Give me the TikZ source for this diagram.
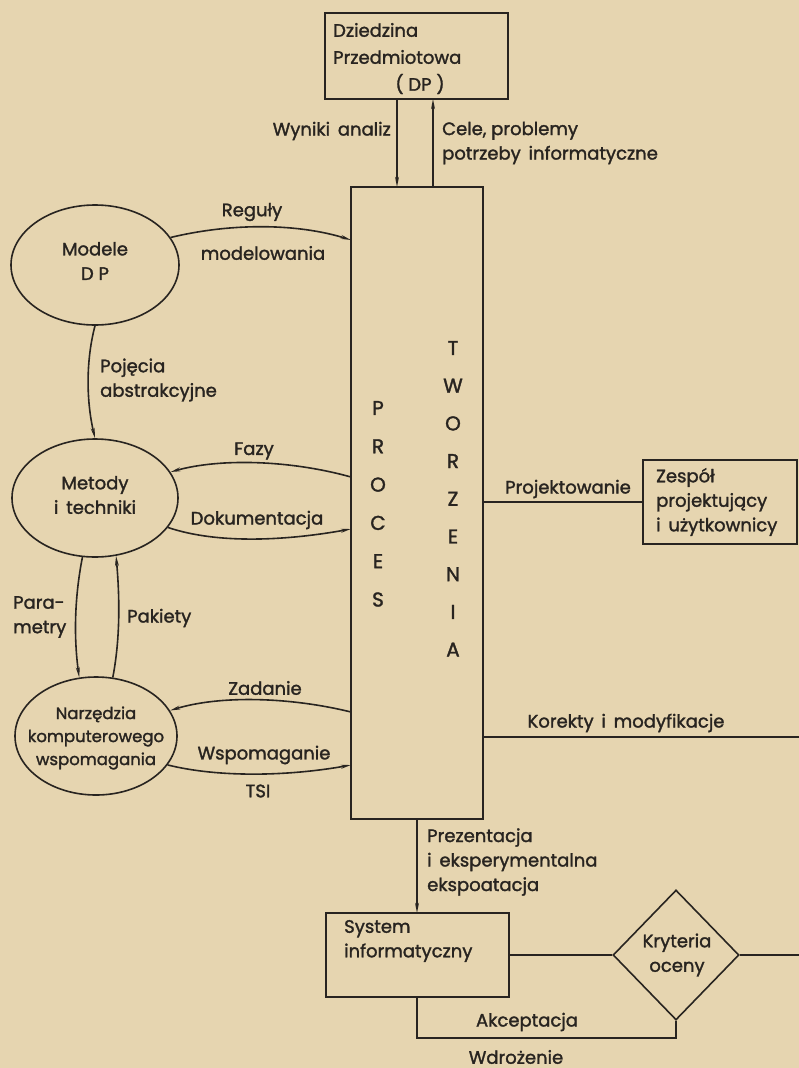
\documentclass[tikz,border=0pt]{standalone}
\usepackage{fontspec}
\setmainfont{Poppins}[UprightFeatures={FakeBold=1.6}]
\usetikzlibrary{shapes.geometric,arrows.meta,calc}
\definecolor{paper}{RGB}{230,213,176}
\definecolor{ink}{RGB}{40,36,32}

\begin{document}
\begin{tikzpicture}[x=1pt,y=-1pt,
  every node/.style={text=ink,font=\fontsize{18}{24.5}\selectfont},
  line/.style={draw=ink,line width=1.6pt},
  arr/.style={line,-{Stealth[length=10pt,width=3.8pt]}},
  box/.style={draw=ink,line width=1.7pt,rectangle,inner sep=0pt},
  oval/.style={draw=ink,line width=1.6pt,ellipse,inner sep=0pt},
  diam/.style={draw=ink,line width=1.6pt,diamond,inner sep=0pt,aspect=0.97},
  lbl/.style={inner sep=0pt,align=left,anchor=west},
  clbl/.style={inner sep=0pt,align=center},
  letter/.style={inner sep=0pt,font=\fontsize{20}{20}\selectfont}]

% paper
\fill[paper] (0,0) rectangle (799,1068);
\useasboundingbox (0,0) rectangle (799,1068);

% ---------- boxes and ellipses ----------
\node[box,minimum width=183,minimum height=86] (dp) at (416.5,56) {};
\node[box,minimum width=132,minimum height=632] (proces) at (417,503) {};
\node[box,minimum width=154,minimum height=84] (zespol) at (720,502) {};
\node[box,minimum width=183,minimum height=84] (system) at (417.5,955) {};
\node[diam,minimum width=126,minimum height=130] (kryt) at (676,955) {};

\node[oval,minimum width=168,minimum height=120] (modele) at (95,265) {};
\node[oval,minimum width=166,minimum height=118] (metody) at (95,498) {};
\node[oval,minimum width=162,minimum height=118] (narz) at (96,736) {};

% ---------- texts inside shapes ----------
\node[lbl] (t-dp1) at (333,30) {Dziedzina};
\node[lbl] (t-dp2) at (333,57) {Przedmiotowa};
\node[clbl] (t-dp3) at (420,84) {( DP )};

\node[clbl] (t-mod) at (95,261) {Modele\\D P};
\node[clbl] (t-met) at (95,495) {Metody\\i\, techniki};
\node[clbl,font=\fontsize{16.5}{23}\selectfont] (t-narz) at (96,738) {Narzędzia\\komputerowego\\wspomagania};

\node[lbl] (t-zes) at (656,502) {Zespół\\projektujący\\i\, użytkownicy};
\node[lbl] (t-sys) at (344,941) {System\\informatyczny};
\node[clbl] (t-kryt) at (677,955) {Kryteria\\oceny};

\foreach \c [count=\i from 0] in {P,R,O,C,E,S}
  \node[letter] (p\i) at (378,{408+38.3*\i}) {\c};
\foreach \c [count=\i from 0] in {T,W,O,R,Z,E,N,I,A}
  \node[letter] (w\i) at (453,{348+37.7*\i}) {\c};

% ---------- border points ----------
\coordinate (dpA) at (397,99);   \coordinate (prA) at (397,187);
\coordinate (dpB) at (433,99);   \coordinate (prB) at (433,187);
\coordinate (prReg) at (351,240);
\coordinate (prFaz) at (351,477);
\coordinate (prDok) at (351,529);
\coordinate (prZad) at (351,712);
\coordinate (prWsp) at (351,765);
\coordinate (prProj) at (483,502);
\coordinate (prKor) at (483,737);
\coordinate (edgeKor) at (799,737);
\coordinate (edgeKryt) at (799,955);
\coordinate (prBot) at (417,819);
\coordinate (sysTop) at (417,913);
\coordinate (sysBot) at (417,997);
\coordinate (loopL) at (417,1038);
\coordinate (loopR) at (676,1038);

% ---------- connectors ----------
\draw[arr] (dpA) -- (prA);
\draw[arr] (prB) -- (dpB);
\node[inner sep=0pt,anchor=east] (l-wyn) at (391,131) {Wyniki\, analiz};
\node[lbl] (l-cel) at (442,143) {Cele, problemy\\potrzeby\, informatyczne};

\draw[arr] (modele.20) .. controls (235,222) and (300,224) .. (prReg);
\node[clbl] (l-reg1) at (252,212) {Reguły};
\node[clbl] (l-reg2) at (263,253) {modelowania};

\draw[arr] (modele.south) .. controls (86,360) and (86,400) .. (metody.north);
\node[lbl] (l-poj) at (100,380) {Pojęcia\\abstrakcyjne};

\draw[arr] (prFaz) .. controls (290,460) and (220,458) .. (metody.19);
\node[clbl] (l-faz) at (254,451) {Fazy};
\draw[arr] (metody.-22) .. controls (220,545) and (290,540) .. (prDok);
\node[clbl] (l-dok) at (257,520) {Dokumentacja};

\draw[arr] (metody.258) .. controls (74,600) and (74,640) .. (narz.106);
\draw[arr] (narz.74) .. controls (120,640) and (120,600) .. (metody.290);
\node[lbl] (l-par) at (13,617) {Para-\\metry};
\node[lbl] (l-pak) at (127,618) {Pakiety};

\draw[arr] (prZad) .. controls (290,697) and (220,695) .. (narz.19);
\node[clbl] (l-zad) at (265,688) {Zadanie};
\draw[arr] (narz.-22) .. controls (220,778) and (290,776) .. (prWsp);
\node[clbl] (l-wsp) at (264,755) {Wspomaganie};
\node[clbl] (l-tsi) at (258,791) {TSI};

\draw[line] (prProj) -- (zespol.west |- prProj);
\node[clbl] (l-proj) at (568,489) {Projektowanie};

\draw[line] (prKor) -- (edgeKor);
\node[clbl] (l-kor) at (626,723) {Korekty\, i\, modyfikacje};

\draw[arr] (prBot) -- (sysTop);
\node[lbl] (l-pre) at (427,862) {Prezentacja\\i\, eksperymentalna\\ekspoatacja};

\draw[line] (system.east) -- (kryt.west);
\draw[line] (kryt.east) -- (edgeKryt);
\draw[line] (sysBot) -- (loopL) -- (loopR) -- (kryt.south);
\node[clbl] (l-akc) at (527,1022) {Akceptacja};
\node[clbl] (l-wdr) at (516,1057) {Wdrożenie};
\end{tikzpicture}
\end{document}
